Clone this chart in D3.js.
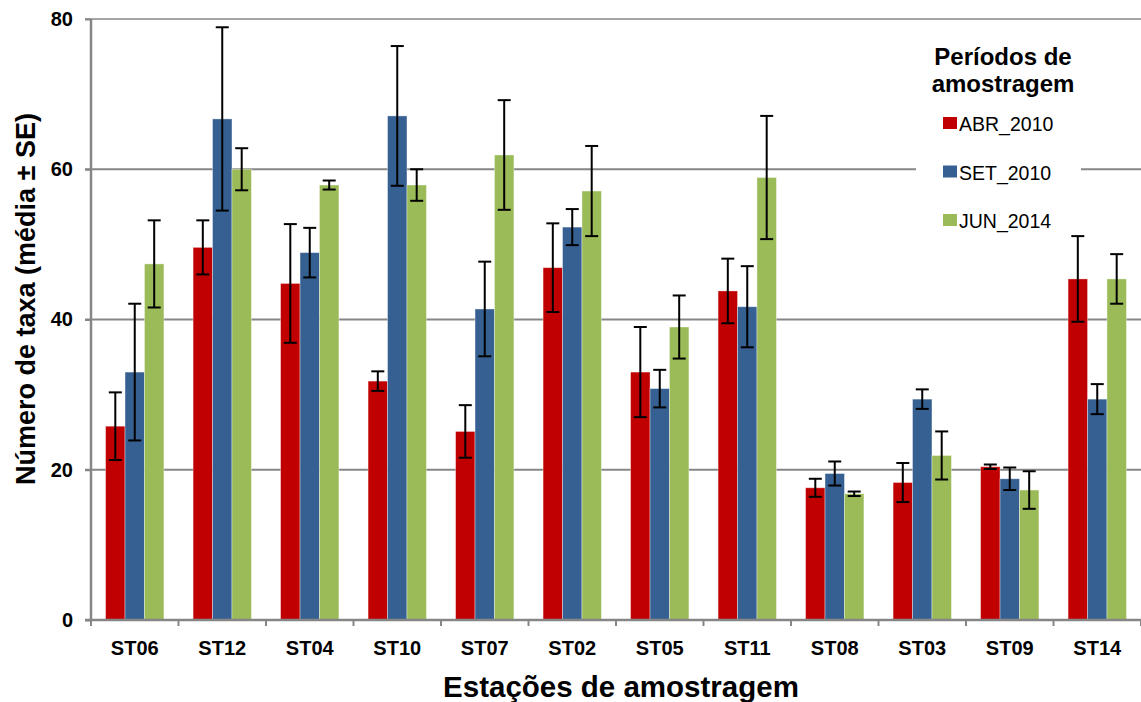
<!DOCTYPE html>
<html>
<head>
<meta charset="utf-8">
<script src="https://cdn.jsdelivr.net/npm/d3@7"></script>
<style>
    body { margin: 0; background: #fff; }
    svg { display: block; font-family: "Liberation Sans", Arial, sans-serif; }
</style>
</head>
<body>
<div id="chart"></div>
<script>
let stations = ["ST06", "ST12", "ST04", "ST10", "ST07", "ST02", "ST05", "ST11", "ST08", "ST03", "ST09", "ST14"];
let periods = ["ABR_2010", "SET_2010", "JUN_2014"];
let colors = ["#c00000", "#376092", "#9bbb59"];

let abr = [25.8, 49.6, 44.8, 31.8, 25.1, 46.9, 33.0, 43.8, 17.6, 18.3, 20.4, 45.4];
let abrSE = [4.5, 3.6, 7.9, 1.3, 3.5, 5.9, 6.0, 4.3, 1.2, 2.6, 0.3, 5.7];
let set = [33.0, 66.7, 48.9, 67.1, 41.4, 52.3, 30.8, 41.7, 19.5, 29.4, 18.8, 29.4];
let setSE = [9.1, 12.2, 3.3, 9.3, 6.3, 2.4, 2.5, 5.4, 1.6, 1.3, 1.5, 2.0];
let jun = [47.4, 60.0, 57.9, 57.9, 61.9, 57.1, 39.0, 58.9, 16.8, 21.9, 17.3, 45.4];
let junSE = [5.8, 2.8, 0.6, 2.1, 7.3, 6.0, 4.2, 8.2, 0.3, 3.2, 2.5, 3.3];

let yTicks = [0, 20, 40, 60, 80];

let width = 1141,
    height = 702,
    plotLeft = 91,
    plotRight = 1141,
    plotTop = 19,
    plotBottom = 620;

let svg = d3.select("#chart")
    .append("svg")
    .attr("width", width)
    .attr("height", height);

let series = [abr, set, jun];
let seriesSE = [abrSE, setSE, junSE];

let rows = [];
stations.forEach(function (s, i) {
    series.forEach(function (arr, j) {
        rows.push({ station: s, period: periods[j], value: arr[i], se: seriesSE[j][i], k: j });
    });
});

let x = d3.scaleBand()
    .domain(stations)
    .range([plotLeft, plotRight])
    .paddingInner(0)
    .paddingOuter(0);

// gap width 150% like the excel chart
let barW = x.bandwidth() / 4.5;
let groupPad = (x.bandwidth() - 3 * barW) / 2;

let y = d3.scaleLinear()
    .domain([0, 80])
    .range([plotBottom, plotTop]);

// gridlines
svg.append("g")
    .selectAll("line")
    .data(yTicks.slice(1))
    .enter()
    .append("line")
    .attr("x1", plotLeft - 6)
    .attr("x2", plotRight)
    .attr("y1", d => y(d))
    .attr("y2", d => y(d))
    .style("stroke", d => d == 80 ? "#a6a6a6" : "#868686")
    .style("stroke-width", 2);

// legend box hides the gridline behind it
svg.append("rect")
    .attr("x", 916)
    .attr("y", 35)
    .attr("width", 165)
    .attr("height", 195)
    .style("fill", "#fff");

// y axis
let yAxis = d3.axisLeft(y)
    .tickValues(yTicks)
    .tickSize(6)
    .tickPadding(12);

let yg = svg.append("g")
    .attr("transform", "translate(" + plotLeft + ",0)")
    .call(yAxis);
yg.select(".domain").style("stroke", "#868686").style("stroke-width", 2.5).attr("d", "M0," + y(80) + "V" + y(0));
yg.selectAll(".tick line").style("stroke", "#868686").style("stroke-width", 2);
yg.selectAll(".tick text")
    .style("font-size", "20px")
    .style("font-weight", "bold")
    .style("fill", "#000")
    .style("font-family", "Liberation Sans, Arial, sans-serif");

// bars
svg.append("g")
    .selectAll("rect")
    .data(rows)
    .enter()
    .append("rect")
    .attr("x", d => x(d.station) + groupPad + d.k * barW)
    .attr("y", d => y(d.value))
    .attr("width", barW)
    .attr("height", d => y(0) - y(d.value))
    .style("fill", d => colors[d.k])
    .style("stroke", "rgba(255,255,255,0.45)")
    .style("stroke-width", 0.8);

// error bars
let eb = svg.append("g")
    .selectAll("g")
    .data(rows)
    .enter()
    .append("g")
    .style("stroke", "#000")
    .style("stroke-width", 2);

eb.append("line")
    .attr("x1", d => x(d.station) + groupPad + (d.k + 0.5) * barW)
    .attr("x2", d => x(d.station) + groupPad + (d.k + 0.5) * barW)
    .attr("y1", d => y(d.value + d.se))
    .attr("y2", d => y(d.value - d.se));

[1, -1].forEach(function (sign) {
    eb.append("line")
        .attr("x1", d => x(d.station) + groupPad + (d.k + 0.5) * barW - 6.5)
        .attr("x2", d => x(d.station) + groupPad + (d.k + 0.5) * barW + 6.5)
        .attr("y1", d => y(d.value + sign * d.se))
        .attr("y2", d => y(d.value + sign * d.se));
});

// x axis
let xAxis = d3.axisBottom(x)
    .tickSize(0)
    .tickPadding(21);

let xg = svg.append("g")
    .attr("transform", "translate(0," + plotBottom + ")")
    .call(xAxis);
xg.select(".domain").remove();
xg.append("line")
    .attr("x1", plotLeft - 6)
    .attr("x2", plotRight)
    .style("stroke", "#868686")
    .style("stroke-width", 2.5);
xg.selectAll(".sep")
    .data(d3.range(stations.length + 1))
    .enter()
    .append("line")
    .attr("class", "sep")
    .attr("x1", d => plotLeft + d * x.bandwidth())
    .attr("x2", d => plotLeft + d * x.bandwidth())
    .attr("y1", 0)
    .attr("y2", 6)
    .style("stroke", "#868686")
    .style("stroke-width", 2);
xg.selectAll(".tick text")
    .style("font-size", "20px")
    .style("font-weight", "bold")
    .style("fill", "#000")
    .style("font-family", "Liberation Sans, Arial, sans-serif");

// axis titles
svg.append("text")
    .attr("x", 621)
    .attr("y", 697)
    .style("text-anchor", "middle")
    .style("font-size", "29.5px")
    .style("font-weight", "bold")
    .text("Estações de amostragem");

svg.append("text")
    .attr("transform", "translate(35,299) rotate(-90)")
    .style("text-anchor", "middle")
    .style("font-size", "27px")
    .style("font-weight", "bold")
    .text("Número de taxa  (média ± SE)");

// legend
let legend = svg.append("g");

legend.append("text")
    .attr("x", 1003)
    .attr("y", 65)
    .style("text-anchor", "middle")
    .style("font-size", "24px")
    .style("font-weight", "bold")
    .text("Períodos de");
legend.append("text")
    .attr("x", 1003)
    .attr("y", 92)
    .style("text-anchor", "middle")
    .style("font-size", "24px")
    .style("font-weight", "bold")
    .text("amostragem");

let items = legend.selectAll(".item")
    .data(periods)
    .enter()
    .append("g")
    .attr("class", "item")
    .attr("transform", (d, i) => "translate(943," + (117 + i * 48.5) + ")");
items.append("rect")
    .attr("width", 14)
    .attr("height", 12)
    .style("fill", (d, i) => colors[i]);
items.append("text")
    .attr("x", 16)
    .attr("y", 14)
    .style("font-size", "19.5px")
    .text(d => d);
</script>
</body>
</html>
